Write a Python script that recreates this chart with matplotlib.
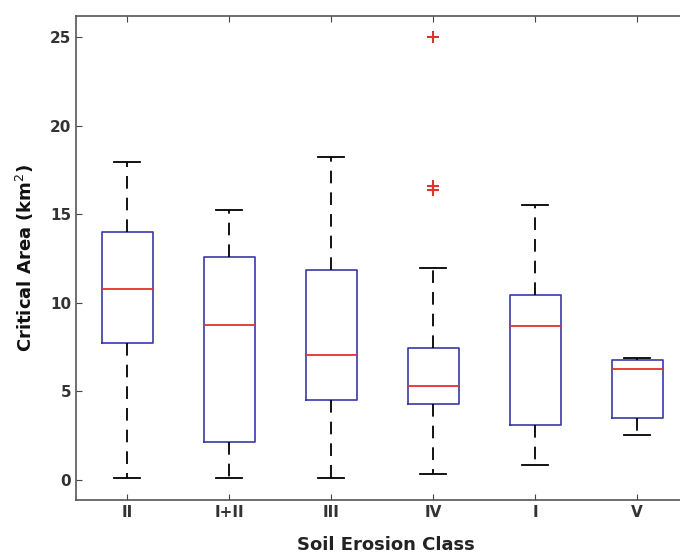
import matplotlib.pyplot as plt

classes = ['II', 'I+II', 'III', 'IV', 'I', 'V']
whisker_low = [0.1, 0.1, 0.1, 0.3, 0.85, 2.55]
q1 = [7.73, 2.14, 4.5, 4.3, 3.1, 3.5]
median = [10.78, 8.75, 7.05, 5.27, 8.69, 6.27]
q3 = [14.0, 12.6, 11.85, 7.46, 10.44, 6.77]
whisker_high = [17.95, 15.24, 18.25, 11.95, 15.55, 6.9]
outliers = [[], [], [], [25.0, 16.6, 16.4], [], []]

stats = []
for i, name in enumerate(classes):
    stats.append({'label': name, 'whislo': whisker_low[i], 'q1': q1[i], 'med': median[i],
                  'q3': q3[i], 'whishi': whisker_high[i], 'fliers': outliers[i]})

fig = plt.figure(figsize=(6.8, 5.58), dpi=100)
# the original picture is cropped on the right, so the axes runs past the edge
ax = fig.add_axes([0.112, 0.104, 0.912, 0.867])

box_col = '#3a3aa8'
ax.bxp(stats, positions=range(1, 7), widths=0.5, capwidths=0.25, showfliers=True,
       boxprops=dict(color=box_col, linewidth=1.2),
       medianprops=dict(color='#e03030', linewidth=1.3),
       whiskerprops=dict(color='black', linewidth=1.3, linestyle=(0, (7, 5))),
       capprops=dict(color='black', linewidth=1.3),
       flierprops=dict(marker='+', markeredgecolor='#e03030', markersize=8,
                       markeredgewidth=1.5, linestyle='none'))

ax.set_xlim(0.5, 6.58)
ax.set_ylim(-1.15, 26.2)
ax.set_yticks([0, 5, 10, 15, 20, 25])
ax.tick_params(direction='in', top=True, right=True, length=4, colors='#444444',
               labelcolor='#333333', labelsize=11)
for lbl in ax.get_xticklabels() + ax.get_yticklabels():
    lbl.set_fontweight('bold')
for s in ax.spines.values():
    s.set_color('#555555')
    s.set_linewidth(1.2)

ax.set_xlabel('Soil Erosion Class', fontsize=13, fontweight='bold', color='#222222', labelpad=12)
ax.set_ylabel('Critical Area (km$^2$)', fontsize=13, fontweight='bold', color='#111111', labelpad=10)

fig.savefig('out.png', dpi=100)
